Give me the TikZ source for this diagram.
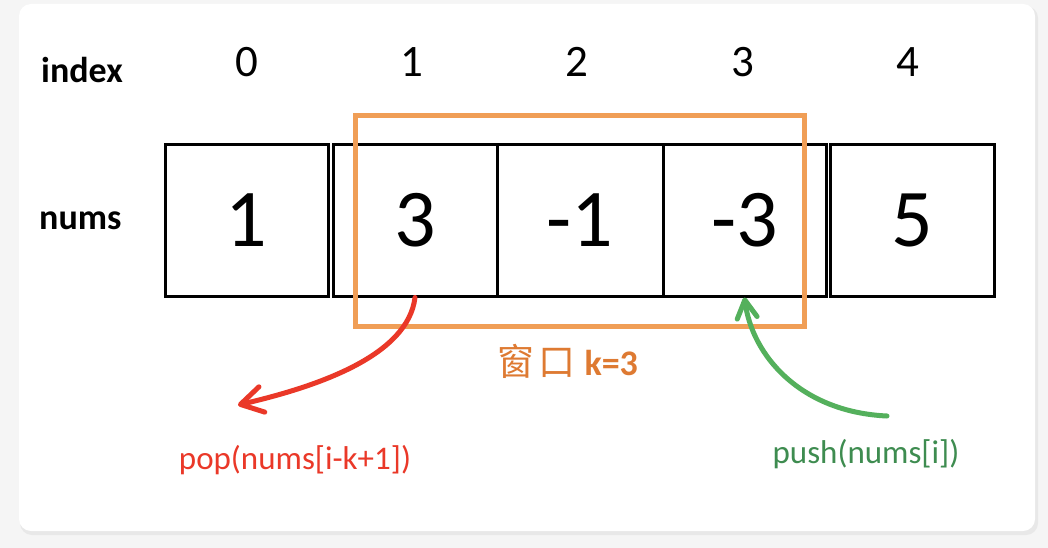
\documentclass[tikz,border=0pt]{standalone}
\usepackage{fontspec}
\setmainfont{Carlito}
\newfontfamily\cjk{Noto Sans CJK SC}
\usetikzlibrary{arrows.meta}
\definecolor{bggray}{RGB}{245,245,245}
\definecolor{shadowgray}{RGB}{232,232,232}
\definecolor{winorange}{RGB}{240,158,86}
\definecolor{lblorange}{RGB}{222,122,50}
\definecolor{popred}{RGB}{234,56,40}
\definecolor{pushgreen}{RGB}{84,176,92}
\definecolor{pushtext}{RGB}{62,140,80}
\tikzset{
  cellbox/.style={draw=black, line width=3pt, inner sep=0pt, minimum height=151.5pt,
    font=\fontsize{82}{90}\selectfont},
  idxnum/.style={anchor=base, inner sep=0pt, font=\fontsize{45}{50}\selectfont},
  rowlabel/.style={anchor=base west, inner sep=0pt, font=\fontsize{36}{42}\selectfont\bfseries},
  windowbox/.style={draw=winorange, line width=5pt},
  popline/.style={draw=popred, line width=5pt, line cap=round,
    -{Straight Barb[length=22pt,width=26pt,round]}},
  pushline/.style={draw=pushgreen, line width=5pt, line cap=round,
    -{Straight Barb[length=18pt,width=20pt,round]}},
  optext/.style={anchor=base, inner sep=0pt, font=\fontsize{33}{38}\selectfont}
}
\begin{document}
\begin{tikzpicture}[x=1pt,y=-1pt]
\useasboundingbox (0,0) rectangle (1048,548);
\fill[bggray] (0,0) rectangle (1048,548);
\fill[shadowgray, rounded corners=12pt] (20,6) rectangle (1038,535);
\fill[white, rounded corners=12pt] (19,4) rectangle (1035,531);

% row labels
\node[rowlabel] (lidx) at (41,83) {index};
\node[rowlabel] (lnums) at (39,229) {nums};

% cells
\node[cellbox, minimum width=163pt] (c0) at (246.5,220.25) {1};
\node[cellbox, minimum width=164pt] (c1) at (415,220.25) {3};
\node[cellbox, minimum width=166pt] (c2) at (580,220.25) {-1};
\node[cellbox, minimum width=163pt] (c3) at (744.5,220.25) {-3};
\node[cellbox, minimum width=164pt] (c4) at (912,220.25) {5};

% index numbers
\node[idxnum] (i0) at (247,77) {0};
\node[idxnum] (i1) at (412,77) {1};
\node[idxnum] (i2) at (577,77) {2};
\node[idxnum] (i3) at (743,77) {3};
\node[idxnum] (i4) at (908,77) {4};

% window
\draw[windowbox] (355.5,115.5) rectangle (804.5,326.5);
\node[anchor=base, inner sep=0pt, text=lblorange] (win) at (567.5,375)
  {{\cjk\fontsize{37}{42}\selectfont 窗\hspace{4.5pt}口}\hspace{9pt}{\fontsize{36}{40}\selectfont\bfseries k=3}};

% operation labels
\node[optext, text=popred] (pop) at (295,469) {pop(nums[i-k+1])};
\node[optext, text=pushtext] (push) at (866,463) {push(nums[i])};

\coordinate (popend) at (238,405);
\coordinate (pushstart) at (887,416);

\draw[popline] (c1.south) .. controls (408,355) and (320,386) .. (popend);
\draw[pushline] (pushstart) .. controls (800,412) and (752,355) .. (c3.south);
\end{tikzpicture}
\end{document}
